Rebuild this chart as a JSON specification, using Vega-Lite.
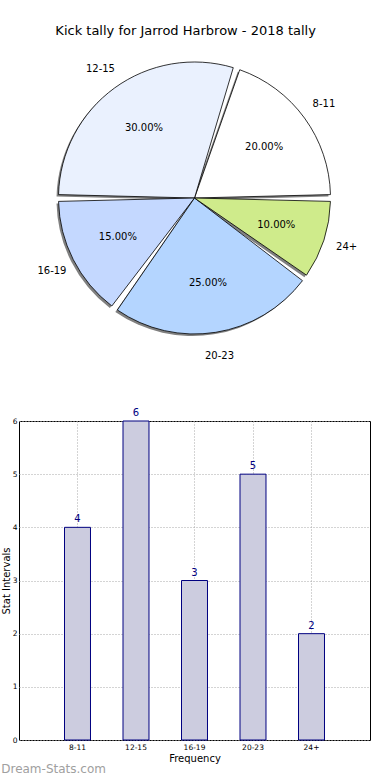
{
  "$schema": "https://vega.github.io/schema/vega-lite/v6.json",
  "padding": {"top": 25, "left": 0, "right": 0, "bottom": 0},
  "background": "white",
  "datasets": {
    "tally": [
      {"range": "8-11", "count": 4, "pct": "20.00%", "idx": 1},
      {"range": "12-15", "count": 6, "pct": "30.00%", "idx": 2},
      {"range": "16-19", "count": 3, "pct": "15.00%", "idx": 3},
      {"range": "20-23", "count": 5, "pct": "25.00%", "idx": 4},
      {"range": "24+", "count": 2, "pct": "10.00%", "idx": 5}
    ]
  },
  "config": {
    "font": "DejaVu Sans",
    "title": {"font": "DejaVu Sans", "fontWeight": "normal", "color": "black"}
  },
  "title": {"text": "Kick tally for Jarrod Harbrow - 2018 tally", "fontSize": 13, "anchor": "middle", "offset": 10},
  "vconcat": [
    {
      "width": 351,
      "height": 300,
      "view": {"stroke": null},
      "data": {"name": "tally"},
      "encoding": {
        "theta": {"field": "count", "type": "quantitative", "stack": true, "scale": {"range": [1.5708, -4.7124]}},
        "order": {"field": "idx", "type": "quantitative", "sort": "ascending"}
      },
      "layer": [
        {
          "mark": {"type": "arc", "radius": 136, "padAngle": 0.05, "fill": "#808080", "xOffset": -2, "yOffset": 2}
        },
        {
          "mark": {"type": "arc", "radius": 136, "padAngle": 0.05, "stroke": "black", "strokeWidth": 0.8},
          "encoding": {
            "color": {"field": "range", "type": "nominal", "legend": null,
              "scale": {"domain": ["8-11", "12-15", "16-19", "20-23", "24+"],
                        "range": ["#ffffff", "#eaf1fe", "#c4d8ff", "#b4d5ff", "#cfeb8b"]}}
          }
        },
        {
          "mark": {"type": "text", "radius": 86, "fontSize": 10, "color": "black"},
          "encoding": {"text": {"field": "pct"}}
        },
        {
          "mark": {"type": "text", "radius": 160, "fontSize": 10, "color": "black"},
          "encoding": {"text": {"field": "range"}}
        }
      ]
    },
    {
      "width": 351,
      "height": 319,
      "view": {"stroke": "black", "strokeWidth": 1},
      "data": {"name": "tally"},
      "title": {"text": "Dream-Stats.com", "orient": "bottom", "anchor": "start", "frame": "bounds", "fontSize": 12, "color": "#a0a0a0", "offset": 0},
      "encoding": {
        "x": {"field": "range", "type": "nominal", "sort": ["8-11", "12-15", "16-19", "20-23", "24+"],
          "scale": {"paddingInner": 0.556, "paddingOuter": 0.778},
          "axis": {"title": "Frequency", "titleFontSize": 10, "titleFontWeight": "normal", "titlePadding": 3,
                   "labelFontSize": 7.5, "labelAngle": 0, "labelPadding": 3, "tickSize": 0, "domain": false,
                   "grid": true, "gridDash": [1, 2], "gridColor": "#a8a8a8", "labelColor": "black", "titleColor": "black"}},
        "y": {"field": "count", "type": "quantitative",
          "scale": {"domain": [0, 6], "nice": false},
          "axis": {"title": "Stat Intervals", "titleFontSize": 10, "titleFontWeight": "normal", "titlePadding": 1,
                   "values": [0, 1, 2, 3, 4, 5, 6], "labelFontSize": 7.5, "labelPadding": 2, "tickSize": 0, "domain": false,
                   "grid": true, "gridDash": [1, 2], "gridColor": "#a8a8a8", "labelColor": "black", "titleColor": "black"}}
      },
      "layer": [
        {"mark": {"type": "bar", "fill": "#ccccdf", "stroke": "#000080", "strokeWidth": 1}},
        {"mark": {"type": "text", "dy": -8, "fontSize": 10, "color": "#000080"},
         "encoding": {"text": {"field": "count", "type": "quantitative"}}}
      ]
    }
  ],
  "spacing": 45
}
